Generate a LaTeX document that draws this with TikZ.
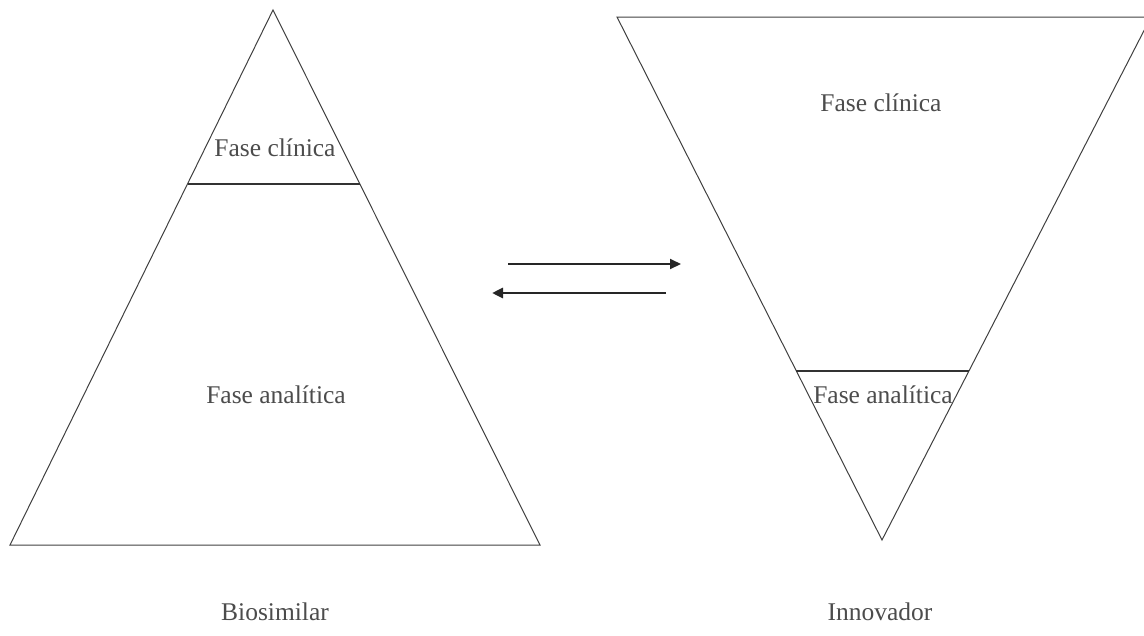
\documentclass[tikz,border=0pt]{standalone}
\usepackage{fontspec}
\setmainfont{Liberation Serif}
\usetikzlibrary{arrows.meta}
\begin{document}
\begin{tikzpicture}[x=1pt,y=-1pt,
  edge/.style={draw=black!75,line width=1pt},
  divider/.style={draw=black!80,line width=2pt},
  label/.style={text=black!70,font=\fontsize{25.5}{30}\selectfont,inner sep=0pt},
  flow/.style={draw=black!85,-{Triangle[length=11pt,width=10pt]}}]
\useasboundingbox (0,0) rectangle (1144,635);
% left triangle (Biosimilar)
\coordinate (LA) at (273,10);
\coordinate (LL) at (10,545);
\coordinate (LR) at (540,545);
\draw[edge,line join=miter] (LA) -- (LL) -- (LR) -- cycle;
\coordinate (LD1) at (187.5,184);
\coordinate (LD2) at (360,184);
\draw[divider] (LD1) -- (LD2);
% right triangle (Innovador)
\coordinate (RL) at (617,17);
\coordinate (RR) at (1151,17);
\coordinate (RB) at (882,540);
\begin{scope}
\clip (0,0) rectangle (1144,635);
\draw[edge,line join=miter] (RL) -- (RR) -- (RB) -- cycle;
\end{scope}
\coordinate (RD1) at (796,371);
\coordinate (RD2) at (969,371);
\draw[divider] (RD1) -- (RD2);
% labels
\node[label] (lc) at (275,148) {Fase clínica};
\node[label] (la) at (276,395) {Fase analítica};
\node[label] (rc) at (881,103) {Fase clínica};
\node[label] (ra) at (883,395) {Fase analítica};
\node[label] (bio) at (275,612) {Biosimilar};
\node[label] (inn) at (880,612) {Innovador};
% arrows
\coordinate (a1s) at (508,264);
\coordinate (a1e) at (681,264);
\coordinate (a2s) at (666,293);
\coordinate (a2e) at (492,293);
\draw[flow,line width=2pt] (a1s) -- (a1e);
\draw[flow,line width=2.8pt] (a2s) -- (a2e);
\end{tikzpicture}
\end{document}
